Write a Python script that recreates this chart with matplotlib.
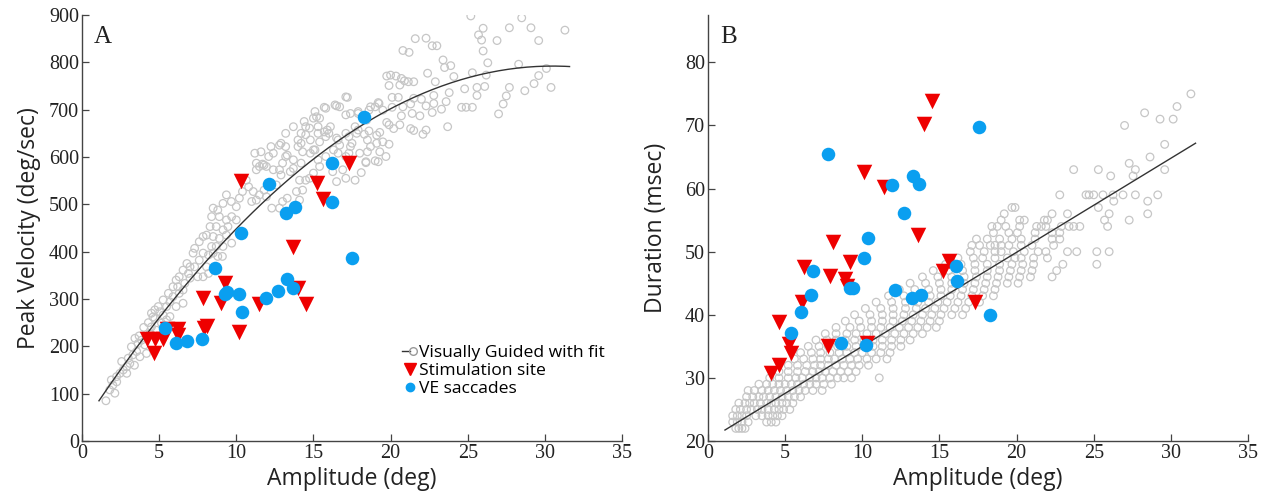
import matplotlib
matplotlib.use("Agg")
import matplotlib.pyplot as plt
import numpy as np
from matplotlib.lines import Line2D
from matplotlib.legend_handler import HandlerTuple

# ---------------- Panel A: peak velocity vs amplitude ----------------
# Visually guided saccades (amplitude in deg, peak velocity in deg/sec)
A_VG_AMP = [
    25.2, 28.5, 27.7, 29.1, 31.3, 26.0, 25.7, 25.9, 26.9, 29.6, 26.0, 26.3, 28.3, 30.1, 29.6, 29.3,
    28.7, 30.4, 27.7, 27.5, 27.3, 27.0, 26.1, 25.6, 25.6, 25.3, 24.9, 24.6, 24.8, 25.3, 26.2, 24.1,
    23.8, 23.6, 23.3, 23.7, 22.8, 22.8, 22.7, 22.3, 22.4, 22.9, 23.9, 23.4, 23.5, 22.7, 23.0, 22.3,
    21.6, 20.8, 21.2,
    19.75, 20.0, 20.35, 20.7, 20.9, 21.15, 21.5, 19.9, 20.6, 17.2, 20.1, 20.5, 22.0, 21.5, 21.3, 20.8,
    20.1, 19.2, 19.0, 18.6, 16.7, 16.4, 15.8, 15.7, 15.1, 15.4, 17.1, 17.4, 17.9, 20.7, 21.9, 21.4,
    22.3, 22.1, 21.3, 21.5, 20.6, 20.2, 19.9, 19.75,
    19.3, 19.1, 18.6, 18.3, 17.8, 17.3, 17.5, 18.5, 18.7, 19.1, 19.5, 19.9, 16.7, 17.3, 18.0, 18.5,
    19.3, 19.7, 19.2, 18.4, 15.2, 14.5, 14.2, 15.3, 15.7, 16.0, 16.5, 14.3, 15.1, 16.3, 17.1,
    11.2, 11.7, 11.5, 11.8, 12.4, 12.8, 13.2, 13.3, 13.7, 14.0, 14.2, 14.75, 14.5, 15.0, 15.3, 15.4,
    15.9, 13.0, 12.4, 12.8, 12.9, 13.5, 14.1, 14.5, 15.0, 15.2, 13.9, 14.3, 14.1, 12.6, 12.2, 11.8,
    11.5, 11.1, 10.8, 10.65, 10.4, 10.2, 11.0, 11.3, 11.95, 12.3, 13.0, 12.8, 13.3,
    9.36, 9.68, 10.0, 9.14, 8.8, 8.5, 8.4, 8.9, 9.36, 9.7, 10.0, 9.46, 9.14, 8.7, 8.3, 8.07,
    8.5, 8.9, 9.36, 9.7, 9.14, 8.7, 8.4, 7.85, 7.6, 7.3, 7.2, 7.85, 8.2, 8.5, 8.8, 9.1,
    7.6, 7.3, 7.0, 6.8, 6.55, 6.9, 6.3, 6.66, 6.1, 5.9, 5.6, 5.9, 6.2, 6.3, 6.55, 7.0,
    7.5, 7.85, 8.2, 8.07, 5.26, 4.94, 4.72, 4.5, 5.05, 5.48, 5.7, 6.1, 6.55,
    1.55, 1.8, 2.0, 2.25, 1.9, 2.46, 2.67, 2.9, 3.1, 2.57, 3.0, 3.3, 3.54, 3.2, 3.64, 3.86,
    3.43, 4.18, 4.07, 4.4, 4.83, 4.5, 4.18, 3.4, 3.75, 2.13, 2.9, 2.24,
    5.26, 5.48, 5.7, 5.15, 4.72, 4.3, 4.6, 3.7, 4.0,
    15.4, 16.25, 16.9, 18.1, 16.5, 17.1, 17.7, 18.4, 19.0, 14.75, 13.7, 11.95, 11.3,
    16.5, 17.1, 15.0, 14.4, 13.7, 13.2, 12.9, 12.25, 11.6, 11.3, 12.1, 13.2, 14.0, 14.8, 15.3, 16.1,
    15.8, 16.6, 17.1, 17.7, 17.9, 18.7, 19.25, 19.5, 18.45, 17.9, 17.4, 16.6, 15.8, 14.8, 14.2,
]
A_VG_VEL = [
    898, 894, 873, 873, 868, 872, 858, 847, 846, 846, 824, 799, 796, 787, 772, 755,
    740, 747, 747, 729, 712, 691, 749, 747, 730, 705, 705, 705, 744, 778, 773, 770,
    736, 717, 701, 664, 730, 713, 694, 708, 777, 759, 793, 805, 789, 835, 835, 851,
    850, 825, 821,
    771, 773, 771, 766, 761, 759, 759, 751, 752, 726, 726, 726, 722, 724, 712, 706,
    705, 715, 706, 699, 706, 710, 703, 705, 696, 682, 689, 692, 696, 687, 687, 692,
    657, 648, 660, 656, 668, 660, 668, 673,
    652, 646, 655, 648, 650, 643, 629, 636, 622, 629, 632, 627, 625, 608, 608, 611,
    611, 601, 590, 590, 685, 664, 650, 664, 653, 650, 640, 611, 615, 615, 601,
    608, 585, 580, 583, 608, 625, 622, 604, 594, 636, 629, 661, 647, 615, 594, 632,
    657, 587, 573, 573, 562, 569, 551, 551, 566, 551, 527, 530, 509, 541, 544, 530,
    520, 527, 537, 551, 527, 513, 506, 509, 516, 492, 506, 492, 513,
    520, 506, 495, 502, 488, 492, 474, 474, 467, 474, 467, 453, 446, 453, 453, 435,
    432, 428, 435, 418, 411, 411, 411, 432, 421, 407, 397, 397, 393, 397, 390, 390,
    382, 368, 368, 375, 361, 354, 347, 333, 340, 326, 312, 305, 326, 312, 319, 344,
    347, 347, 354, 368, 298, 284, 277, 270, 273, 284, 294, 284, 291,
    85, 108, 118, 125, 129, 143, 150, 157, 164, 168, 175, 182, 189, 199, 206, 213,
    217, 220, 203, 227, 234, 241, 185, 160, 178, 101, 143, 136,
    266, 256, 263, 249, 259, 250, 262, 222, 240,
    580, 569, 573, 567, 548, 555, 551, 588, 592, 555, 576, 580, 573,
    708, 727, 682, 675, 664, 650, 629, 622, 611, 587, 601, 601, 622, 636, 650, 664,
    643, 636, 650, 664, 692, 706, 713, 699, 678, 657, 622, 608, 601, 608, 587,
]

# Electrical stimulation sites
A_STIM_AMP = [10.28, 15.25, 15.65, 17.3, 13.7, 9.27, 7.83, 9.0, 11.45, 14.0, 14.55,
              8.1, 7.9, 10.2, 5.5, 6.2, 6.2, 4.2, 4.7, 5.25, 4.66]
A_STIM_VEL = [550, 545, 511, 587, 410, 333, 302, 291, 290, 323, 290,
              243, 238, 230, 236, 236, 224, 215, 215, 215, 186]

# VE saccades
A_VE_AMP = [18.3, 16.2, 12.1, 16.2, 13.8, 13.25, 10.3, 17.5, 8.6, 13.3, 13.65,
            12.7, 11.95, 9.4, 9.25, 10.15, 10.4, 5.4, 6.1, 6.8, 7.8]
A_VE_VEL = [684, 587, 543, 505, 494, 482, 439, 387, 365, 342, 323,
            317, 302, 315, 311, 311, 273, 238, 207, 212, 215]

# Quadratic fit to the visually guided saccades: a*x^2 + b*x + c
A_FIT_COEF = [-0.818, 49.9, 31.1]
A_FIT_RANGE = (1.1, 31.6)

# ---------------- Panel B: duration vs amplitude ----------------
# Visually guided saccades, grouped by duration (msec) -> amplitudes (deg)
B_VG_ROWS = {
    22: [1.8, 2.0, 2.2, 2.4],
    23: [1.6, 1.9, 2.2, 2.6, 3.8, 4.1, 4.4],
    24: [1.6, 1.9, 2.2, 2.5, 3.1, 3.5, 3.9, 4.2, 4.5, 4.8],
    25: [1.8, 2.1, 2.5, 2.8, 3.2, 3.5, 3.9, 4.3, 4.6, 4.9, 5.3],
    26: [2.0, 2.4, 2.7, 3.0, 3.4, 3.8, 4.1, 4.4, 4.8, 5.1, 5.5],
    27: [2.5, 2.9, 3.3, 3.6, 4.0, 4.4, 4.8, 5.2, 5.6, 6.0],
    28: [2.6, 3.0, 3.5, 3.9, 4.3, 4.7, 5.1, 5.5, 5.9, 6.3, 6.8, 7.4],
    29: [3.3, 3.8, 4.2, 4.6, 5.0, 5.4, 5.8, 6.2, 6.6, 7.0, 7.5, 8.0],
    30: [4.0, 4.6, 5.2, 5.7, 6.1, 6.6, 7.0, 7.4, 7.9, 8.4, 8.8, 9.3, 11.1],
    31: [4.6, 5.2, 5.8, 6.3, 6.8, 7.2, 7.6, 8.1, 8.6, 9.1, 9.6],
    32: [5.2, 5.8, 6.4, 6.9, 7.3, 7.8, 8.3, 8.8, 9.3, 9.8, 10.4],
    33: [5.6, 6.2, 6.8, 7.3, 7.8, 8.2, 8.7, 9.2, 9.7, 10.3, 10.9, 11.6],
    34: [6.0, 6.7, 7.3, 7.9, 8.5, 9.0, 9.5, 10.0, 10.6, 11.2, 11.8],
    35: [6.5, 7.2, 7.8, 8.4, 9.0, 9.6, 10.1, 10.7, 11.3, 11.9, 12.5],
    36: [7.0, 7.7, 8.3, 8.9, 9.5, 10.1, 10.7, 11.3, 11.9, 12.5, 13.1],
    37: [7.6, 8.3, 9.0, 9.6, 10.3, 10.9, 11.5, 12.1, 12.7, 13.3, 13.9],
    38: [8.3, 9.2, 9.9, 10.6, 11.2, 11.8, 12.4, 13.0, 13.6, 14.2, 14.8],
    39: [8.9, 9.8, 10.6, 11.3, 12.0, 12.6, 13.2, 13.8, 14.4, 15.0],
    40: [9.5, 10.5, 11.3, 12.0, 12.7, 13.3, 13.9, 14.5, 15.1, 15.8, 16.5],
    41: [10.2, 11.2, 12.0, 12.8, 13.5, 14.1, 14.7, 15.3, 16.0, 16.7],
    42: [10.9, 11.9, 12.8, 13.6, 14.3, 14.9, 15.5, 16.2, 16.9, 17.6],
    43: [11.7, 12.7, 13.6, 14.4, 15.1, 15.7, 16.4, 17.1, 17.8, 18.5],
    44: [12.4, 13.4, 14.3, 15.1, 15.8, 16.5, 17.2, 17.9, 18.6],
    45: [13.1, 14.1, 15.0, 15.8, 16.6, 17.3, 18.0, 18.7, 19.4, 20.1],
    46: [13.9, 14.9, 15.8, 16.6, 17.4, 18.1, 18.8, 19.5, 20.2, 20.9, 22.3],
    47: [14.6, 15.6, 16.5, 17.3, 18.1, 18.9, 19.6, 20.3, 21.0, 22.6],
    48: [15.4, 16.4, 17.3, 18.1, 18.9, 19.7, 20.4, 21.1, 23.0, 25.2],
    49: [16.2, 17.2, 17.8, 18.6, 19.4, 19.9, 20.3, 21.1, 22.0],
    50: [17.0, 17.9, 18.6, 19.0, 19.8, 20.5, 21.4, 21.9, 23.3, 23.9, 25.2, 26.0],
    51: [17.1, 17.6, 18.3, 18.6, 19.0, 19.5, 20.3, 21.0, 22.4],
    52: [17.4, 18.1, 18.9, 19.7, 20.3, 21.2, 22.3, 22.8],
    53: [18.5, 19.5, 20.05, 21.2, 22.3, 22.8],
    54: [18.4, 18.75, 19.3, 20.2, 21.3, 21.6, 21.9, 22.9, 23.4, 23.7, 24.1, 25.9],
    55: [19.0, 20.2, 20.5, 21.8, 22.0, 25.7, 27.3],
    56: [19.2, 22.3, 23.3, 26.0, 28.5],
    57: [19.7, 19.9, 25.3],
    58: [26.3, 28.5],
    59: [22.8, 24.5, 24.7, 25.0, 25.6, 26.25, 26.9, 27.7, 29.15],
    62: [26.1, 27.55],
    63: [23.7, 25.3, 27.7, 29.6],
    64: [27.3],
    65: [28.65],
    67: [29.6],
    70: [27.0],
    71: [29.3, 30.15],
    72: [28.3],
    73: [30.4],
    75: [31.3],
}

B_STIM_AMP = [14.55, 14.0, 10.1, 11.4, 13.6, 8.1, 6.2, 9.2, 7.9, 8.9, 9.0,
              15.6, 15.25, 6.1, 4.6, 17.3, 5.24, 5.4, 7.8, 10.3, 4.07, 4.6]
B_STIM_DUR = [73.9, 70.2, 62.6, 60.2, 52.7, 51.6, 47.5, 48.3, 46.1, 45.7, 44.5,
              48.5, 46.9, 42.0, 38.9, 42.1, 35.4, 34.0, 35.0, 35.6, 30.8, 32.1]

B_VE_AMP = [17.55, 7.8, 13.3, 11.9, 13.7, 12.7, 10.4, 10.1, 6.8, 16.1, 16.15,
            9.2, 9.4, 12.1, 13.8, 13.2, 6.7, 6.0, 18.3, 5.4, 8.6, 10.26]
B_VE_DUR = [69.7, 65.5, 62.0, 60.6, 60.7, 56.2, 52.2, 49.0, 47.0, 47.7, 45.4,
            44.3, 44.2, 43.9, 43.2, 42.6, 43.2, 40.4, 40.0, 37.1, 35.5, 35.2]

# Linear fit to the visually guided saccades: a*x + b
B_FIT_COEF = [1.49, 20.1]
B_FIT_RANGE = (1.1, 31.6)

# ---------------- Styling ----------------
GRAY = "#c6c6c6"
RED = "#ee0000"
BLUE = "#0a9ff0"
SPINE = "#444444"
SANS = ["Open Sans", "DejaVu Sans"]
SERIF = ["Liberation Serif", "DejaVu Serif"]

X_TICKS = [0, 5, 10, 15, 20, 25, 30, 35]
A_Y_TICKS = [0, 100, 200, 300, 400, 500, 600, 700, 800, 900]
B_Y_TICKS = [20, 30, 40, 50, 60, 70, 80]

fig = plt.figure(figsize=(12.64, 5.04), dpi=100)
axA = fig.add_axes([82 / 1264, 63 / 504, 540 / 1264, 426 / 504])
axB = fig.add_axes([708 / 1264, 63 / 504, 540 / 1264, 426 / 504])


def style_axis(ax, yticks, ylim):
    for side in ("top", "right"):
        ax.spines[side].set_visible(False)
    for side in ("left", "bottom"):
        ax.spines[side].set_color(SPINE)
        ax.spines[side].set_linewidth(1.0)
    ax.set_xlim(0, 35)
    ax.set_ylim(*ylim)
    tick_font = dict(family=SERIF, size=14.5, color="#222222")
    ax.set_xticks(X_TICKS, labels=[str(t) for t in X_TICKS], **tick_font)
    ax.set_yticks(yticks, labels=[str(t) for t in yticks], **tick_font)
    ax.tick_params(direction="in", length=5, width=0.9, color=SPINE, pad=2)


def draw_panel(ax, vg_x, vg_y, fit_coef, fit_range, st_x, st_y, ve_x, ve_y):
    ax.scatter(vg_x, vg_y, s=30, facecolors="none", edgecolors=GRAY,
               linewidths=0.9, zorder=2)
    xs = np.linspace(fit_range[0], fit_range[1], 200)
    ax.plot(xs, np.polyval(fit_coef, xs), color="#333333", lw=1.0, zorder=3)
    ax.scatter(st_x, st_y, s=125, marker="v", color=RED, linewidths=0, zorder=4)
    ax.scatter(ve_x, ve_y, s=95, marker="o", color=BLUE, linewidths=0, zorder=5)


# Panel A
draw_panel(axA, A_VG_AMP, A_VG_VEL, A_FIT_COEF, A_FIT_RANGE,
           A_STIM_AMP, A_STIM_VEL, A_VE_AMP, A_VE_VEL)
style_axis(axA, A_Y_TICKS, (0, 900))
axA.set_xlabel("Amplitude (deg)", fontsize=16.5, family=SANS, color="#222222", labelpad=3)
axA.set_ylabel("Peak Velocity (deg/sec)", fontsize=16.5, family=SANS, color="#222222", labelpad=6)
axA.text(0.022, 0.975, "A", transform=axA.transAxes, fontsize=18, family=SERIF,
         va="top", ha="left", color="#222222")

vg_handle = (Line2D([], [], color="#333333", lw=1.0),
             Line2D([], [], ls="none", marker="o", markersize=5.5,
                    markerfacecolor="none", markeredgecolor="#999999", markeredgewidth=1.0))
st_handle = Line2D([], [], ls="none", marker="v", markersize=9, color=RED)
ve_handle = Line2D([], [], ls="none", marker="o", markersize=6, color=BLUE)
leg = axA.legend([vg_handle, st_handle, ve_handle],
                 ["Visually Guided with fit", "Stimulation site", "VE saccades"],
                 handler_map={tuple: HandlerTuple(ndivide=None, pad=0)},
                 loc="upper left", bbox_to_anchor=(0.592, 0.226), frameon=False,
                 prop={"family": SANS, "size": 12.6}, handlelength=0.9,
                 handletextpad=0.1, labelspacing=0.1, borderpad=0, borderaxespad=0)

# Panel B
rows_amp = [a for d, amps in B_VG_ROWS.items() for a in amps]
rows_dur = [d for d, amps in B_VG_ROWS.items() for _ in amps]
draw_panel(axB, rows_amp, rows_dur, B_FIT_COEF, B_FIT_RANGE,
           B_STIM_AMP, B_STIM_DUR, B_VE_AMP, B_VE_DUR)
style_axis(axB, B_Y_TICKS, (20, 87.5))
axB.set_xlabel("Amplitude (deg)", fontsize=16.5, family=SANS, color="#222222", labelpad=3)
axB.set_ylabel("Duration (msec)", fontsize=16.5, family=SANS, color="#222222", labelpad=12)
axB.text(0.022, 0.975, "B", transform=axB.transAxes, fontsize=18, family=SERIF,
         va="top", ha="left", color="#222222")

fig.savefig("out.png", dpi=100, facecolor="white")
